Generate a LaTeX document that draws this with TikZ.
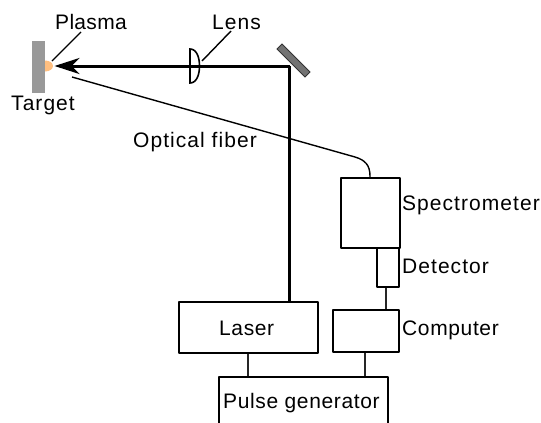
\documentclass[tikz,border=0pt]{standalone}
\usepackage{fontspec}
\setmainfont[LetterSpace=5]{Liberation Sans}
\newfontfamily\tightfont[LetterSpace=3]{Liberation Sans}
\newfontfamily\tighterfont[LetterSpace=1.5]{Liberation Sans}
\usetikzlibrary{arrows.meta}
\tikzset{
  x=1pt,y=-1pt,
  lab/.style={inner sep=0pt,anchor=base west,font=\fontsize{21}{24}\selectfont,text=black},
  box/.style={draw=black,line width=2.2pt,line join=round,fill=white,inner sep=0pt,anchor=north west},
  beam/.style={draw=black,line width=3pt},
  thin/.style={draw=black,line width=1.4pt},
  wire/.style={draw=black!85,line width=1.7pt},
}
\begin{document}
\begin{tikzpicture}
\useasboundingbox (0,0) rectangle (541,423);
\begin{scope}
\clip (0,0) rectangle (541,423);
% named points
\coordinate (mirrorpt) at (289.5,66);
\coordinate (tip) at (54.5,66);
\coordinate (fiberend) at (72,77);
\coordinate (lensleadA) at (202,61);
\coordinate (lensleadB) at (231,31);
\coordinate (plasmaleadA) at (52,61);
\coordinate (plasmaleadB) at (81,32);
% target
\node[fill=black!40,minimum width=13pt,minimum height=52pt,inner sep=0pt,anchor=north west] (target) at (32,41) {};
\fill[fill=orange!50!white] (45,60.5) arc[start angle=-90,end angle=90,x radius=8,y radius=5.5] -- cycle;
% mirror
\draw[fill=black!55,draw=black!80,line width=0.8pt] (277,49) -- (282,44) -- (310,72) -- (305,77) -- cycle;
% boxes
\node[box,minimum width=59pt,minimum height=70pt] (spec) at (340,177) {};
\node[box,minimum width=22pt,minimum height=39pt] (det) at (376,247) {};
\node[box,minimum width=66pt,minimum height=42pt] (comp) at (332,309) {};
\node[box,minimum width=139pt,minimum height=51pt] (laser) at (178,301) {};
\node[box,minimum width=169pt,minimum height=60pt] (pulse) at (218,376) {};
% beam
\draw[beam] (laser.north -| mirrorpt) -- (mirrorpt);
\draw[beam,-{Stealth[length=25pt,width=16pt,inset=8pt]}] (mirrorpt) -- (tip);
% lens
\draw[draw=black,line width=1.6pt] (190,49) -- (190,83) .. controls (197,83) and (199.5,74) .. (199.5,66) .. controls (199.5,58) and (197,49) .. (190,49) -- cycle;
% fibre
\draw[thin] (fiberend) -- (355,157) .. controls (365,160) and (370,165) .. (370,176) -- (370,177);
% leaders
\draw[thin] (lensleadA) -- (lensleadB);
\draw[thin] (plasmaleadA) -- (plasmaleadB);
% wires
\draw[wire] (det.south -| 386,0) -- (comp.north -| 386,0);
\draw[wire] (laser.south -| 248,0) -- (pulse.north -| 248,0);
\draw[wire] (comp.south -| 365,0) -- (pulse.north -| 365,0);
% labels
\node[lab] (lplasma) at (55,29) {\tighterfont Plasma};
\node[lab] (llens) at (212,29) {Lens};
\node[lab] (ltarget) at (11,110) {Target};
\node[lab] (lfiber) at (133,147) {Optical fiber};
\node[lab] (lspec) at (402,210) {Spectrometer};
\node[lab] (ldet) at (402,273) {Detector};
\node[lab] (lcomp) at (402,335) {\tightfont Computer};
\node[lab] (llaser) at (219,335) {\tightfont Laser};
\node[lab] (lpulse) at (223,408) {\tightfont Pulse generator};
\end{scope}
\end{tikzpicture}
\end{document}
